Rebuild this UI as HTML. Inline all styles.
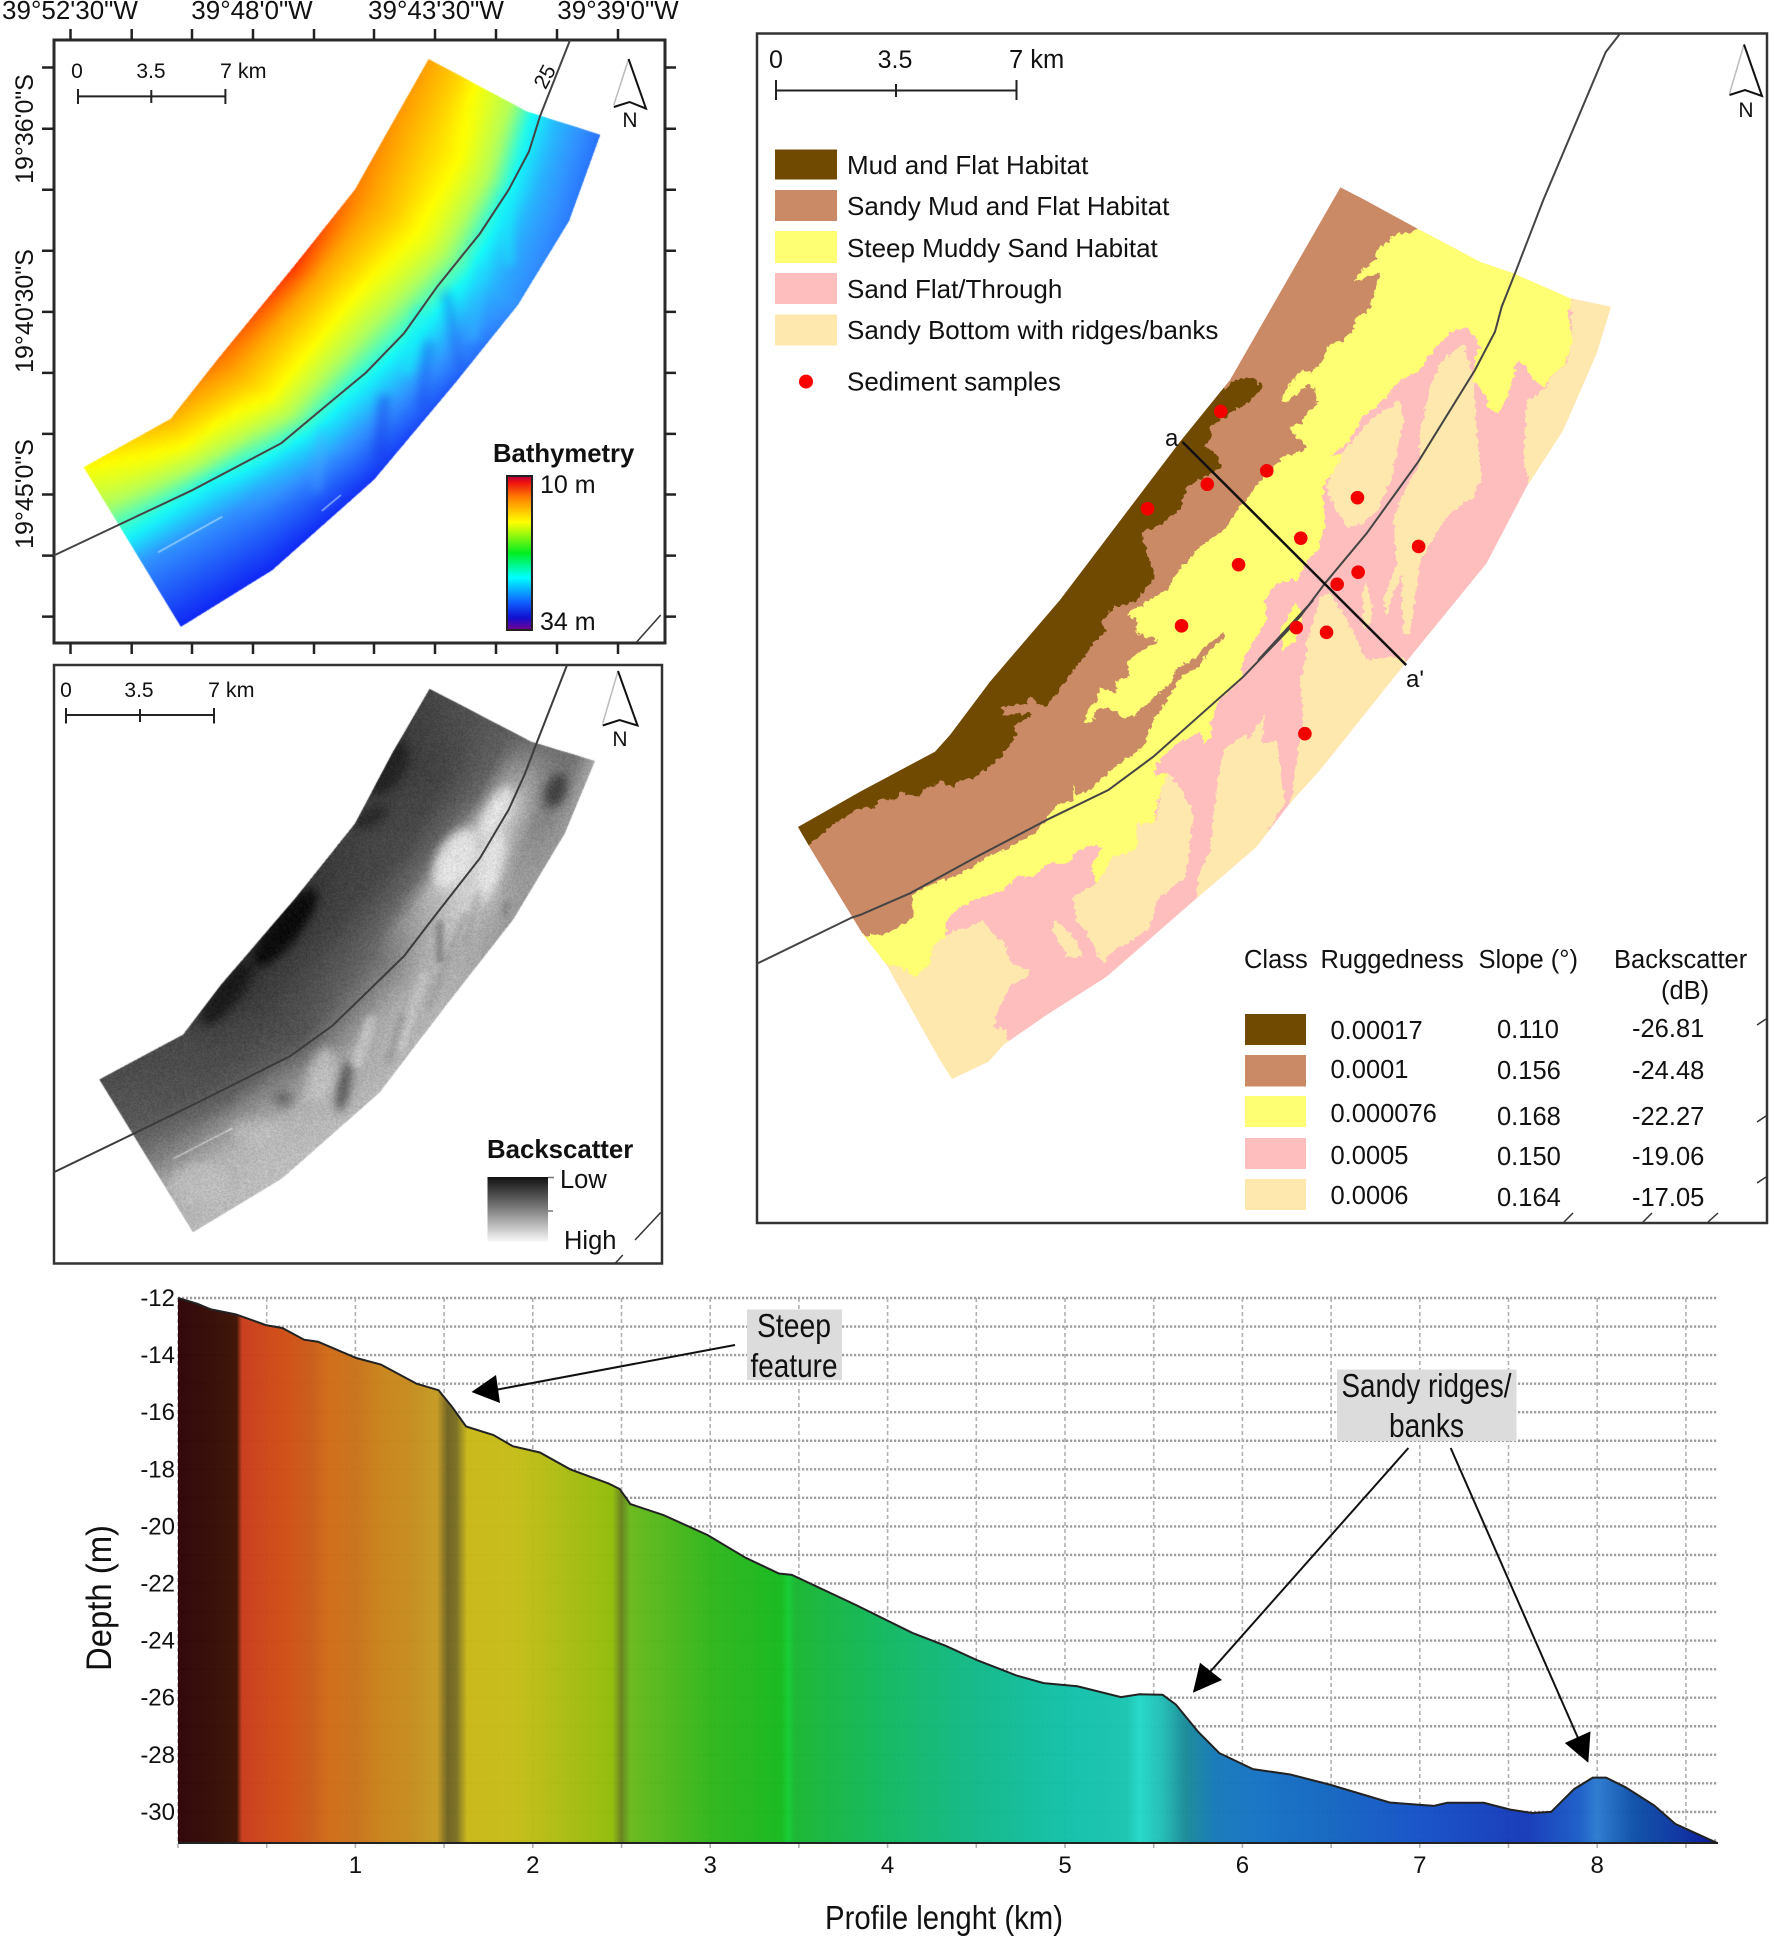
<!DOCTYPE html>
<html lang="en">
<head>
<meta charset="utf-8">
<title>Bathymetry, backscatter and habitat maps with depth profile</title>
<style>
html,body{margin:0;padding:0;background:#fff}
#stage{position:relative;width:1772px;height:1943px;overflow:hidden;background:#fff;font-family:"Liberation Sans",sans-serif}
canvas{position:absolute;display:block}
svg{position:absolute;left:0;top:0}
text{font-family:"Liberation Sans",sans-serif;fill:#111}
</style>
</head>
<body>
<div id="stage">
<canvas id="bathyCanvas" style="left:54px;top:40px" width="612" height="604"></canvas>
<canvas id="backCanvas" style="left:54px;top:665px" width="610" height="600"></canvas>
<svg id="main" width="1772" height="1943" viewBox="0 0 1772 1943">
<defs>
<filter id="rough" x="-5%" y="-5%" width="110%" height="110%" color-interpolation-filters="sRGB">
<feTurbulence type="fractalNoise" baseFrequency="0.2" numOctaves="2" seed="7" result="n"/>
<feDisplacementMap in="SourceGraphic" in2="n" scale="7" xChannelSelector="R" yChannelSelector="G"/>
</filter>
<clipPath id="habitatClip"><polygon id="habitatClipPoly"/></clipPath>
<linearGradient id="bathyRamp" x1="0" y1="0" x2="0" y2="1">
<stop offset="0" stop-color="#b00040"/><stop offset=".04" stop-color="#ee1010"/><stop offset=".14" stop-color="#ff8000"/><stop offset=".3" stop-color="#ffff00"/><stop offset=".5" stop-color="#00ee20"/><stop offset=".66" stop-color="#00ffff"/><stop offset=".82" stop-color="#1060ff"/><stop offset=".92" stop-color="#1010d0"/><stop offset="1" stop-color="#7a0090"/>
</linearGradient>
<linearGradient id="backRamp" x1="0" y1="0" x2="0" y2="1">
<stop offset="0" stop-color="#111"/><stop offset=".5" stop-color="#808080"/><stop offset="1" stop-color="#fafafa"/>
</linearGradient>
<linearGradient id="profileFill" gradientUnits="userSpaceOnUse" x1="178" y1="0" x2="1718" y2="0"></linearGradient>
</defs>

<!-- PANEL A -->
<g>
<rect x="54" y="40" width="611" height="603" fill="none" stroke="#2a2a2a" stroke-width="3"/>
<path id="ticksA" fill="none" stroke="#222" stroke-width="2.5"/>
<polyline id="contourA" fill="none" stroke="#444" stroke-width="2"/>
<line x1="660.7" y1="615" x2="636" y2="642.7" stroke="#333" stroke-width="1.5"/>
<text x="70" y="19" font-size="26" text-anchor="middle">39°52'30"W</text>
<text x="252" y="19" font-size="26" text-anchor="middle">39°48'0"W</text>
<text x="436" y="19" font-size="26" text-anchor="middle">39°43'30"W</text>
<text x="618" y="19" font-size="26" text-anchor="middle">39°39'0"W</text>
<text transform="translate(33,129) rotate(-90)" font-size="25" text-anchor="middle">19°36'0"S</text>
<text transform="translate(33,311) rotate(-90)" font-size="25" text-anchor="middle">19°40'30"S</text>
<text transform="translate(33,494) rotate(-90)" font-size="25" text-anchor="middle">19°45'0"S</text>
<text transform="translate(551,80) rotate(-62)" font-size="21" text-anchor="middle">25</text>
<g stroke="#222" stroke-width="2">
<path d="M78 96.4H225.4M78 89V104M151.3 90V103M225.4 89V104" fill="none"/>
</g>
<text x="77" y="78" font-size="21" text-anchor="middle">0</text>
<text x="151" y="78" font-size="21" text-anchor="middle">3.5</text>
<text x="220" y="78" font-size="21.5">7 km</text>
<g fill="none">
<line x1="628.6" y1="59" x2="613.8" y2="105" stroke="#bbb" stroke-width="1.5"/>
<polyline points="628.6,59 646,108.6 629.5,102 613.8,107" stroke="#111" stroke-width="2"/>
</g>
<text x="630" y="127" font-size="21" text-anchor="middle">N</text>
<text x="493" y="462" font-size="25.7" font-weight="bold">Bathymetry</text>
<rect x="507" y="476" width="25" height="154" fill="url(#bathyRamp)" stroke="#222" stroke-width="2"/>
<text x="540" y="493" font-size="25">10 m</text>
<text x="540" y="630" font-size="25">34 m</text>
</g>

<!-- PANEL B -->
<g>
<rect x="54" y="665" width="608" height="598.5" fill="none" stroke="#333" stroke-width="2.5"/>
<polyline id="contourB" fill="none" stroke="#3c3c3c" stroke-width="2"/>
<path d="M660.7 1212.5L635 1240M622.8 1255L615 1263.5" fill="none" stroke="#333" stroke-width="1.5"/>
<path d="M66 715H214M66 708V723.5M140 709V722M214 708V723.5" fill="none" stroke="#222" stroke-width="2"/>
<text x="66" y="697" font-size="21" text-anchor="middle">0</text>
<text x="139" y="697" font-size="21" text-anchor="middle">3.5</text>
<text x="208" y="697" font-size="21.5">7 km</text>
<g fill="none">
<line x1="618" y1="671" x2="602.7" y2="723.5" stroke="#bbb" stroke-width="1.5"/>
<polyline points="618,671 637.5,725.5 619.6,720 602.7,725.5" stroke="#111" stroke-width="2"/>
</g>
<text x="620" y="746" font-size="21" text-anchor="middle">N</text>
<text x="487" y="1158" font-size="25.8" font-weight="bold">Backscatter</text>
<rect x="487.5" y="1177" width="60.5" height="65" fill="url(#backRamp)"/>
<path d="M548 1177.5h6M548 1211h5" stroke="#777" stroke-width="1.5"/>
<text x="560" y="1188" font-size="25.5">Low</text>
<text x="564" y="1249" font-size="25.5">High</text>
</g>

<!-- PANEL C -->
<g>
<rect x="757" y="33.5" width="1010" height="1189.5" fill="#fff" stroke="#333" stroke-width="2.5"/>
<g clip-path="url(#habitatClip)">
<polygon id="hPink" fill="#ffbebe"/>
<g filter="url(#rough)">
<polygon id="hS1" fill="#ffe8ae"/>
<polygon id="hS2" fill="#ffe8ae"/>
<polygon id="hS3" fill="#ffe8ae"/>
<polygon id="hS4" fill="#ffe8ae"/>
<polygon id="hS5" fill="#ffe8ae"/>
<polygon id="hS6" fill="#ffe8ae"/>
<polygon id="hS6b" fill="#ffe8ae"/>
<polygon id="hS7" fill="#ffe8ae"/>
<polygon id="hS8" fill="#ffe8ae"/>
<polygon id="hYellow" fill="#ffff73"/>
<polygon id="hYellow2" fill="#ffff73"/>
<polygon id="hMud" fill="#cb8a66"/>
<polygon id="hDark" fill="#6f4a00"/>
</g>
</g>
<polyline id="contourC" fill="none" stroke="#444" stroke-width="2"/>
<line id="transect" stroke="#111" stroke-width="2.5"/>
<g id="samples"></g>
<text x="1165" y="446" font-size="24">a</text>
<text x="1406" y="687" font-size="24">a'</text>
<path d="M776 90.5H1016.5M776 80V100M896 84V97M1016.5 80V100" fill="none" stroke="#222" stroke-width="2"/>
<text x="776" y="68" font-size="25" text-anchor="middle">0</text>
<text x="895" y="68" font-size="25" text-anchor="middle">3.5</text>
<text x="1009" y="68" font-size="25.5">7 km</text>
<g fill="none">
<line x1="1744" y1="44.5" x2="1729.5" y2="93.7" stroke="#bbb" stroke-width="1.5"/>
<polyline points="1744,44.5 1762,96 1745,90 1729.5,95" stroke="#111" stroke-width="2"/>
</g>
<text x="1746" y="117" font-size="21" text-anchor="middle">N</text>

<g font-size="26">
<rect x="775" y="149.5" width="62" height="30" fill="#6f4a00"/>
<rect x="775" y="190" width="62" height="31" fill="#cb8a66"/>
<rect x="775" y="231" width="62" height="32" fill="#ffff73"/>
<rect x="775" y="273" width="62" height="31" fill="#ffbebe"/>
<rect x="775" y="314.5" width="62" height="31" fill="#ffe8ae"/>
<text x="847" y="174">Mud and Flat Habitat</text>
<text x="847" y="215">Sandy Mud and Flat Habitat</text>
<text x="847" y="257">Steep Muddy Sand Habitat</text>
<text x="847" y="298">Sand Flat/Through</text>
<text x="847" y="339">Sandy Bottom with ridges/banks</text>
<circle cx="806" cy="381.6" r="7" fill="#f00"/>
<text x="847" y="390.5">Sediment samples</text>
</g>

<g font-size="25.5">
<text x="1244" y="968">Class</text>
<text x="1320.5" y="968">Ruggedness</text>
<text x="1478.5" y="968">Slope (°)</text>
<text x="1614" y="968">Backscatter</text>
<text x="1661" y="999">(dB)</text>
<rect x="1245" y="1014" width="61" height="31" fill="#6f4a00"/>
<rect x="1245" y="1055" width="61" height="31.5" fill="#cb8a66"/>
<rect x="1245" y="1096" width="61" height="31" fill="#ffff73"/>
<rect x="1245" y="1138" width="61" height="31" fill="#ffbebe"/>
<rect x="1245" y="1179" width="61" height="31" fill="#ffe8ae"/>
<text x="1330.5" y="1039">0.00017</text>
<text x="1330.5" y="1078">0.0001</text>
<text x="1330.5" y="1122">0.000076</text>
<text x="1330.5" y="1164">0.0005</text>
<text x="1330.5" y="1204">0.0006</text>
<text x="1497" y="1038">0.110</text>
<text x="1497" y="1079">0.156</text>
<text x="1497" y="1125">0.168</text>
<text x="1497" y="1165">0.150</text>
<text x="1497" y="1206">0.164</text>
<text x="1632" y="1037">-26.81</text>
<text x="1632" y="1079">-24.48</text>
<text x="1632" y="1125">-22.27</text>
<text x="1632" y="1165">-19.06</text>
<text x="1632" y="1206">-17.05</text>
</g>
<path d="M1757 1025L1766 1019M1757 1122L1766 1116M1757 1183L1766 1177M1564 1222L1573 1213M1643 1222L1652 1213M1708 1222L1718 1213" fill="none" stroke="#333" stroke-width="1.5"/>
</g>

<!-- PROFILE -->
<g id="profile">
<g id="profileGrid"></g>
<path id="profileArea" fill="url(#profileFill)" fill-opacity=".97"/>
<path id="profileLine" fill="none" stroke="#222" stroke-width="2"/>
<line id="profileBase" stroke="#222" stroke-width="2"/>
<g id="profileTicks" font-size="24"></g>
<text transform="translate(111,1598) rotate(-90)" font-size="35" text-anchor="middle" textLength="146" lengthAdjust="spacingAndGlyphs">Depth (m)</text>
<text x="825" y="1929" font-size="33" textLength="238" lengthAdjust="spacingAndGlyphs">Profile lenght (km)</text>
<rect x="747" y="1309.5" width="95" height="70.5" fill="#dcdcdc"/>
<text x="794" y="1337" font-size="33" text-anchor="middle" textLength="74" lengthAdjust="spacingAndGlyphs">Steep</text>
<text x="794" y="1377" font-size="33" text-anchor="middle" textLength="87" lengthAdjust="spacingAndGlyphs">feature</text>
<line x1="735" y1="1345" x2="495" y2="1390" stroke="#111" stroke-width="2"/>
<polygon points="471.5,1392 496,1375 500,1403" fill="#000"/>
<rect x="1337" y="1369.5" width="179.5" height="71.5" fill="#dcdcdc"/>
<text x="1426.5" y="1397" font-size="33" text-anchor="middle" textLength="170" lengthAdjust="spacingAndGlyphs">Sandy ridges/</text>
<text x="1426.5" y="1437" font-size="33" text-anchor="middle" textLength="75" lengthAdjust="spacingAndGlyphs">banks</text>
<line x1="1408.4" y1="1448" x2="1210" y2="1672" stroke="#111" stroke-width="2"/>
<polygon points="1192.9,1692.8 1200,1662.7 1222,1680" fill="#000"/>
<line x1="1450.7" y1="1448" x2="1578" y2="1738" stroke="#111" stroke-width="2"/>
<polygon points="1588.3,1762.7 1564.8,1743 1590.5,1731.4" fill="#000"/>
</g>
</svg>
</div>

<script>
/* ---------- depth profile data ---------- */
const profileKm = [0,0.108,0.186,0.325,0.495,0.588,0.711,0.789,1.005,1.144,1.345,1.469,1.547,1.624,1.778,1.887,2.04,2.21,2.428,2.49,2.55,2.736,2.985,3.2,3.387,3.46,3.82,4.14,4.326,4.51,4.73,4.88,5.07,5.315,5.42,5.55,5.625,5.75,5.87,6.06,6.27,6.49,6.83,7.08,7.155,7.36,7.51,7.635,7.74,7.87,7.975,8.05,8.16,8.32,8.44,8.68];
const profileDepth = [-12,-12.2,-12.4,-12.57,-12.95,-13.05,-13.46,-13.53,-14.1,-14.33,-15,-15.23,-15.83,-16.5,-16.8,-17.19,-17.41,-18,-18.5,-18.69,-19.22,-19.6,-20.3,-21.1,-21.65,-21.7,-22.75,-23.73,-24.18,-24.7,-25.23,-25.49,-25.6,-25.98,-25.88,-25.9,-26.24,-27.19,-27.94,-28.5,-28.69,-29.04,-29.67,-29.79,-29.68,-29.68,-29.92,-30.04,-30,-29.2,-28.8,-28.8,-29.14,-29.77,-30.42,-31.1];
const depthTickLabels = [-12,-14,-16,-18,-20,-22,-24,-26,-28,-30];
const kmTickLabels = [1,2,3,4,5,6,7,8];
const depthGridLines = [-12,-13,-14,-15,-16,-17,-18,-19,-20,-21,-22,-23,-24,-25,-26,-27,-28,-29,-30,-31];
const kmGridLines = [0,0.5,1,1.5,2,2.5,3,3.5,4,4.5,5,5.5,6,6.5,7,7.5,8,8.5];
const shadeKm = [0,0.33,0.36,0.6,0.75,0.85,1,1.15,1.3,1.46,1.52,1.57,1.63,1.9,2.05,2.2,2.45,2.5,2.55,2.6,3,3.4,3.44,3.48,4,4.5,5,5.35,5.42,5.55,5.68,5.85,6.1,6.5,7,7.6,7.9,8,8.2,8.5,8.68];
const shadeColor = ["#2c0006","#3a1000","#c83a1a","#d04c12","#c95a16","#d06a14","#c87018","#c98218","#c58a1c","#c49a20","#6e6220","#7a6e20","#c9b716","#c4bc14","#b8bc12","#a8bb10","#8fbc08","#66801c","#6ab81a","#62b81a","#2fb51a","#14b81c","#10cc30","#18b530","#10b860","#10b888","#10c0a8","#18c4b0","#22d8c8","#20bcb4","#188a98","#1478b8","#1472c4","#1265c0","#1450c8","#1438b8","#1a5cc8","#2a7ad0","#0c50a8","#0a2ea0","#05109a"];

const NS = "http://www.w3.org/2000/svg";
const xKm = km => 178 + km * 177.4;
const yDepth = d => 1298 + (-12 - d) * 28.55;

const gradEl = document.getElementById('profileFill');
shadeKm.forEach((k, i) => {
  const s = document.createElementNS(NS, 'stop');
  s.setAttribute('offset', (xKm(k) - 178) / 1540);
  s.setAttribute('stop-color', shadeColor[i]);
  gradEl.appendChild(s);
});
const gridG = document.getElementById('profileGrid');
depthGridLines.forEach(d => {
  const l = document.createElementNS(NS, 'line');
  
  
  l.setAttribute('x1', xKm(0)); l.setAttribute('x2', 1718);
  l.setAttribute('y1', yDepth(d)); l.setAttribute('y2', yDepth(d));
  l.setAttribute('stroke', '#9c9c9c'); l.setAttribute('stroke-width', '2.4'); l.setAttribute('stroke-dasharray', '2.2 1.8');
  gridG.appendChild(l);
});
kmGridLines.forEach(k => {
  const l = document.createElementNS(NS, 'line');
  
  
  l.setAttribute('x1', xKm(k)); l.setAttribute('x2', xKm(k));
  l.setAttribute('y1', yDepth(-12)); l.setAttribute('y2', 1850);
  l.setAttribute('stroke', '#b0b0b0'); l.setAttribute('stroke-width', '1.6'); l.setAttribute('stroke-dasharray', '4 3');
  gridG.appendChild(l);
});
const linePts = profileKm.map((k, i) => xKm(k).toFixed(1) + ' ' + yDepth(profileDepth[i]).toFixed(1));
const baseY = 1843;
document.getElementById('profileLine').setAttribute('d', 'M' + linePts.join('L'));
document.getElementById('profileArea').setAttribute('d', 'M' + xKm(profileKm[0]) + ' ' + baseY + 'L' + linePts.join('L') + 'L' + xKm(profileKm[profileKm.length - 1]) + ' ' + baseY + 'Z');
const baseLine = document.getElementById('profileBase');
baseLine.setAttribute('x1', xKm(0)); baseLine.setAttribute('x2', 1718);
baseLine.setAttribute('y1', baseY); baseLine.setAttribute('y2', baseY);
const tickG = document.getElementById('profileTicks');
depthTickLabels.forEach(d => {
  const t = document.createElementNS(NS, 'text');
  
  
  t.setAttribute('x', 175); t.setAttribute('y', yDepth(d) + 8);
  t.setAttribute('text-anchor', 'end');
  t.textContent = d;
  tickG.appendChild(t);
});
kmTickLabels.forEach(k => {
  const t = document.createElementNS(NS, 'text');
  
  
  t.setAttribute('x', xKm(k)); t.setAttribute('y', 1873);
  t.setAttribute('text-anchor', 'middle');
  t.textContent = k;
  tickG.appendChild(t);
});

/* ---------- habitat samples (km from the frame's lower-left corner) ---------- */
const sampleEastKm = [13.51,14.85,13.12,11.38,17.49,15.84,14.03,19.27,17.51,16.90,12.37,15.71,16.59,15.96];
const sampleNorthKm = [23.62,21.89,21.50,20.79,21.11,19.93,19.16,19.69,18.94,18.59,17.38,17.33,17.19,14.24];
const mapX = km => 756.5 + km * 34.36;
const mapY = km => 1223 - km * 34.36;
const sampleG = document.getElementById('samples');
sampleEastKm.forEach((e, i) => {
  const c = document.createElementNS(NS, 'circle');
  
  
  c.setAttribute('cx', mapX(e)); c.setAttribute('cy', mapY(sampleNorthKm[i])); c.setAttribute('r', 6.8);
  c.setAttribute('fill', '#f30000');
  sampleG.appendChild(c);
});

/* ---------- map geometry helpers ---------- */
const Z1 = p => [p[0] / 2.24, p[1] / 2.376];
const Z4 = p => [p[0] / 2.24, 650 + p[1] / 2.45];
const Z2 = p => [740 + p[0] / 1.519, 20 + p[1] / 2.24];
const Z3 = p => [740 + p[0] / 1.519, 680 + p[1] / 2.8];
const Z5 = p => [1180 + p[0] / 3, 200 + p[1] / 3];
const Z6 = p => [860 + p[0] / 3, 600 + p[1] / 3];
const setPts = (id, pts) => document.getElementById(id).setAttribute('points', pts.map(p => p[0].toFixed(1) + ',' + p[1].toFixed(1)).join(' '));

setPts('contourA', [[1277,95],[1210,275],[1185,360],[1140,450],[1075,555],[980,680],[905,792],[820,885],[735,960],[630,1053],[430,1165],[270,1245],[120,1320]].map(Z1));
setPts('contourB', [[1270,37],[1205,220],[1175,305],[1140,390],[1075,510],[975,650],[905,750],[830,830],[745,920],[650,995],[440,1110],[290,1190],[120,1280]].map(Z4));
setPts('contourC', [[1337,30],[1315,72]].map(Z2).concat([[1090,0],[1005,220],[965,320],[945,395],[885,510],[715,785],[560,1000],[435,1150],[360,1250],[235,1380]].map(Z5)).concat([[1360,0],[1285,90],[1150,230],[880,470],[745,570],[570,655],[350,770],[150,880],[0,945]].map(Z6)).concat([[170,665],[25,795]].map(Z3)));
const ta = Z2([672,945]), tb = Z2([1012,1445]);
const trEl = document.getElementById('transect');
trEl.setAttribute('x1', ta[0]); trEl.setAttribute('y1', ta[1]); trEl.setAttribute('x2', tb[0]); trEl.setAttribute('y2', tb[1]);

const tickXs = [70.5,131.7,192,253,314,374,435,496,557,618];
const tickYs = [67.5,128.8,189.8,250.8,311.9,372.9,433.9,494.5,555.6,616.6];
let dT = '';
tickXs.forEach(x => { dT += 'M' + x + ' 29V40M' + x + ' 643V654'; });
tickYs.forEach(y => { dT += 'M665 ' + y + 'H676M42 ' + y + 'H54'; });
document.getElementById('ticksA').setAttribute('d', dT);

/* ---------- habitat polygons ---------- */
const swath = [[1340.4,187.4]].concat(
  [[555,0],[710,85],[900,185],[1000,220],[1170,295],[1293,320],[1250,460],[1150,690],[1040,860],[920,1090],[700,1360]].map(Z5),
  [[1380,510],[1290,610],[1190,740],[1010,895],[740,1130],[560,1245],[430,1335],[385,1385]].map(Z6),
  [[952,1079]],
  [[240,1380],[80,1095],[10,1005]].map(Z6),
  [[809,846],[798,827]],
  [[0,575],[225,455],[270,405],[390,245],[600,0]].map(Z6),
  [[0,725],[150,540]].map(Z5));
setPts('habitatClipPoly', swath);
setPts('hPink', swath);
setPts('hS1', [[1170,295],[1310,300],[1260,460],[1160,690],[1050,860],[1030,780],[1040,600],[1090,570],[1130,510],[1165,490],[1175,400]].map(Z5));
setPts('hS2', [[660,600],[670,660],[650,760],[630,850],[600,920],[550,970],[500,985],[470,930],[445,890],[440,860],[470,780],[510,730],[580,650]].map(Z5));
setPts('hS3', [[850,430],[880,530],[890,700],[905,830],[880,890],[800,950],[750,1030],[720,1090],[690,1300],[670,1300],[665,1120],[640,1180],[620,1250],[610,1200],[650,1090],[640,950],[720,780],[720,700],[750,560],[780,490]].map(Z5));
setPts('hS4', [[420,1190],[450,1180],[500,1260],[530,1320],[560,1380],[640,1370],[710,1385]].map(Z5).concat([[1400,520],[1290,615],[1310,480],[1330,350],[1320,240]].map(Z6),[[375,1380],[380,1330],[400,1260]].map(Z5)));
setPts('hS5', [[1215,340],[1205,430],[1250,420],[1275,610],[1190,750],[1010,905],[1015,830],[1050,750],[1065,600],[1090,450],[1160,400],[1165,420]].map(Z6));
setPts('hS6', [[920,515],[965,570],[1000,640],[985,780],[975,830],[940,860],[890,900],[870,980],[820,1020],[750,1060],[730,1090],[680,1000],[650,960],[640,890],[710,850],[760,770],[830,750],[830,670],[885,670],[905,570]].map(Z6));
setPts('hS6b', [[590,960],[640,1010],[670,1070],[620,1070],[575,985]].map(Z6));
setPts('hS7', [[370,965],[400,1000],[440,1040],[450,1090],[510,1110],[500,1130],[450,1160],[420,1220],[400,1280],[440,1290],[445,1345],[400,1400],[300,1490],[200,1420],[50,1095],[120,1100],[165,1130],[210,1090],[215,1040],[255,1010],[290,990]].map(Z6));
setPts('hS8', [[560,1140],[580,1250],[555,1290],[545,1180]].map(Z5));

setPts('hYellow', [[700,60],[900,165],[1180,280],[1175,300],[1165,340],[1175,420],[1160,490],[1130,510],[1090,560],[1060,540],[1040,500],[1010,480],[1000,530],[985,590],[950,645],[925,620],[920,590],[880,540],[885,470],[900,440],[860,380],[810,400],[760,450],[720,510],[660,540],[610,600],[550,650],[510,720],[450,770],[490,760],[430,860],[435,970],[415,1050],[385,1080],[350,1140],[330,1140],[290,1150],[255,1200]].map(Z5).concat(
  [[1220,60],[1160,160],[1140,210],[1150,230],[1080,300],[1050,370],[1055,410],[1030,430],[1020,395],[950,430],[890,490],[885,530],[920,515],[905,570],[885,640],[885,670],[830,670],[830,750],[760,770],[710,850],[690,800],[730,740],[690,735],[640,760],[630,790],[560,790],[525,830],[470,830],[430,870],[340,900],[290,930],[260,960],[255,1010],[215,1040],[210,1090],[165,1130],[120,1100],[65,1095],[-20,1000]].map(Z6),
  [[1000,620],[1230,350]]));
setPts('hYellow2', [[300,1290],[345,1210],[370,1240],[350,1320],[310,1350]].map(Z5));

const mudInner = [[710,85],[700,100],[660,100],[620,125],[590,150],[585,180],[540,215],[520,245],[600,220],[580,290],[570,325],[525,360],[520,390],[490,420],[440,440],[430,480],[390,520],[370,510],[330,550],[300,600],[320,610],[340,590],[390,550],[405,570],[415,605],[380,640],[365,670],[325,680],[340,700],[385,745],[310,770],[285,795],[240,840],[200,900],[180,920],[130,990],[60,1040],[0,1105]].map(Z5);
const mudLower = [[924,-33],[870,0],[800,40],[830,60],[830,100],[880,115],[900,125],[850,150],[820,170],[800,190],[810,230],[770,240],[770,280],[720,265],[710,300],[680,330],[675,365],[700,370],[705,330],[740,320],[790,355],[825,345],[860,310],[900,280],[930,250],[950,205],[1000,180],[1040,135],[1095,95],[1090,115],[1045,155],[1020,200],[970,225],[945,260],[925,300],[895,340],[870,380],[850,440],[790,480],[735,530],[680,575],[650,585],[640,550],[640,600],[600,610],[570,640],[525,700],[445,745],[380,770],[340,800],[290,825],[220,850],[155,885],[160,950],[110,985],[60,1005],[10,1005],[-20,1010]].map(Z6);
setPts('hMud', mudInner.concat(mudLower, [[780,850],[1000,620],[1230,350],[1330,170],[1420,223]]));

const darkPts = [[785,855],[808,846],[825.6,830],[852,812]].concat(
  [[0,625],[45,625],[60,595],[110,600],[120,575],[180,595],[190,570],[240,545],[275,560],[310,540],[350,530],[410,480],[440,450],[470,400],[460,380],[520,340],[430,345],[425,325],[500,310],[510,290],[555,325],[590,280],[610,250],[650,200],[700,130],[740,90],[720,70],[760,20],[790,15],[830,0]].map(Z6),
  [[1154.7,578],[1141.6,533],[1161,524]],
  [[0,930],[20,860],[75,830],[125,800],[100,750],[70,740],[95,715],[90,690],[105,670],[165,630],[205,610],[250,560],[230,545],[220,530],[185,535],[155,550],[135,570],[120,540],[-30,700]].map(Z5),
  [[560,-20],[370,230],[210,440],[0,550]].map(Z6),
  [[780,815]]);
setPts('hDark', darkPts);

/* ---------- raster swaths ---------- */
function lerp(a, b, t) { return a + (b - a) * t; }
function tableAt(tbl, u) {
  for (let i = 1; i < tbl.length; i++) {
    if (u <= tbl[i][0]) {
      const f = (u - tbl[i - 1][0]) / (tbl[i][0] - tbl[i - 1][0] || 1);
      return lerp(tbl[i - 1][1], tbl[i][1], f);
    }
  }
  return tbl[tbl.length - 1][1];
}
function drawSwath(ctx, pairs, rows, colorOf) {
  const sub = 20, n = pairs.length - 1;
  for (let s = 0; s < n; s++) {
    for (let k = 0; k < sub; k++) {
      const f0 = k / sub, f1 = Math.min(k + 1.6, sub + 1.6) / sub, fm = (k + 0.5) / sub;
      const P = (f, side) => {
        const a = pairs[s], b = pairs[s + 1];
        return [lerp(a[side][0], b[side][0], f), lerp(a[side][1], b[side][1], f)];
      };
      const L0 = P(f0, 0), R0 = P(f0, 1), L1 = P(f1, 0), R1 = P(f1, 1), Lm = P(fm, 0), Rm = P(fm, 1);
      const g = ctx.createLinearGradient(Lm[0], Lm[1], Rm[0], Rm[1]);
      for (let i = 0; i <= 24; i++) {
        const u = i / 24;
        const v = lerp(tableAt(rows[s], u), tableAt(rows[s + 1], u), fm);
        g.addColorStop(u, colorOf(v));
      }
      ctx.fillStyle = g;
      ctx.beginPath();
      ctx.moveTo(L0[0], L0[1]); ctx.lineTo(L1[0], L1[1]); ctx.lineTo(R1[0], R1[1]); ctx.lineTo(R0[0], R0[1]);
      ctx.closePath(); ctx.fill();
    }
  }
}
function clipPoly(ctx, pts) {
  ctx.beginPath();
  pts.forEach((p, i) => i ? ctx.lineTo(p[0], p[1]) : ctx.moveTo(p[0], p[1]));
  ctx.closePath(); ctx.clip();
}

/* bathymetry */
(function () {
  const ctx = document.getElementById('bathyCanvas').getContext('2d');
  ctx.translate(-54, -40);
  const outline = [[960,140],[1180,265],[1345,320],[1275,525],[1160,725],[1020,910],[838,1140],[610,1355],[405,1490],[187,1110],[382,995],[490,850],[660,630],[795,450],[880,290]].map(Z1);
  clipPoly(ctx, outline);
  const pairs = [[[187,1110],[405,1490]],[[382,995],[610,1355]],[[490,850],[838,1140]],[[660,630],[1020,910]],[[795,450],[1160,725]],[[880,290],[1275,525]],[[960,140],[1345,320]]]
    .map(p => [Z1(p[0]), Z1(p[1])]);
  const rows = [
    [[0,2],[.18,2.7],[.35,3.6],[.44,4],[.6,5],[1,6]],
    [[0,1.2],[.17,2],[.3,3],[.42,4],[.62,5],[1,6]],
    [[0,.6],[.33,2],[.47,3],[.6,4],[.78,5],[1,5.9]],
    [[0,0],[.12,1],[.33,2],[.5,3],[.68,4],[.88,5],[1,5.5]],
    [[0,.7],[.25,1.5],[.45,2.3],[.62,3.4],[.72,4],[.85,4.7],[1,5]],
    [[0,.9],[.2,1.5],[.38,2],[.55,3],[.67,4],[.8,4.7],[1,5.2]],
    [[0,1],[.2,1.6],[.28,2],[.5,3],[.62,4],[.75,4.6],[1,5.3]]
  ];
  const cmap = [[255,50,0],[255,160,0],[255,255,0],[175,255,95],[20,250,250],[50,145,255],[16,40,245]];
  const colorOf = v => {
    const i = Math.max(0, Math.min(5, Math.floor(v))), f = Math.max(0, Math.min(1, v - i));
    const a = cmap[i], b = cmap[i + 1];
    return 'rgb(' + Math.round(lerp(a[0], b[0], f)) + ',' + Math.round(lerp(a[1], b[1], f)) + ',' + Math.round(lerp(a[2], b[2], f)) + ')';
  };
  drawSwath(ctx, pairs, rows, colorOf);
  ctx.filter = 'blur(5px)';
  ctx.lineCap = 'round';
  const streak = (a, b, col, w) => {
    const p = Z1(a), q = Z1(b);
    ctx.strokeStyle = col; ctx.lineWidth = w;
    ctx.beginPath(); ctx.moveTo(p[0], p[1]); ctx.lineTo(q[0], q[1]); ctx.stroke();
  };
  streak([1135,470],[1140,620],'rgba(20,240,250,.55)',9);
  streak([1075,640],[1060,800],'rgba(40,200,255,.45)',9);
  streak([940,740],[915,880],'rgba(20,240,250,.55)',10);
  streak([720,1030],[710,1160],'rgba(70,170,255,.5)',9);
  streak([1000,700],[1030,870],'rgba(30,90,240,.45)',9);
  streak([860,950],[850,1080],'rgba(20,50,230,.45)',11);
  streak([960,820],[945,960],'rgba(20,60,235,.4)',9);
  ctx.filter = 'none';
  streak([355,1312],[497,1228],'rgba(190,225,255,.8)',1.3);
  streak([722,1213],[763,1177],'rgba(190,225,255,.8)',1.3);
})();

/* backscatter */
(function () {
  const cv = document.getElementById('backCanvas');
  const ctx = cv.getContext('2d');
  ctx.save();
  ctx.translate(-54, -665);
  const outline = [[962,95],[1190,225],[1333,272],[1265,450],[1150,660],[1000,870],[850,1085],[632,1295],[432,1427],[222,1052],[410,942],[495,820],[660,610],[795,425],[880,250]].map(Z4);
  clipPoly(ctx, outline);
  const pairs = [[[222,1052],[432,1427]],[[410,942],[632,1295]],[[495,820],[850,1085]],[[660,610],[1000,870]],[[795,425],[1150,660]],[[880,250],[1265,450]],[[962,95],[1333,272]]]
    .map(p => [Z4(p[0]), Z4(p[1])]);
  const rows = [
    [[0,.3],[.35,.36],[.55,.5],[.7,.68],[1,.72]],
    [[0,.28],[.3,.31],[.45,.38],[.55,.55],[.75,.72],[1,.75]],
    [[0,.17],[.25,.26],[.5,.33],[.62,.48],[.75,.65],[1,.72]],
    [[0,.2],[.25,.26],[.5,.4],[.65,.52],[.8,.68],[1,.7]],
    [[0,.26],[.3,.29],[.45,.42],[.55,.78],[.75,.82],[.9,.65],[1,.6]],
    [[0,.22],[.3,.27],[.5,.4],[.6,.72],[.7,.78],[.85,.5],[1,.6]],
    [[0,.27],[.3,.33],[.6,.38],[.75,.42],[.9,.45],[1,.65]]
  ];
  drawSwath(ctx, pairs, rows, v => { const g = Math.round(v * 255); return 'rgb(' + g + ',' + g + ',' + g + ')'; });
  const blob = (x, y, rx, ry, rot, col) => {
    const p = Z4([x, y]);
    ctx.fillStyle = col;
    ctx.beginPath(); ctx.ellipse(p[0], p[1], rx, ry, rot * Math.PI / 180, 0, 6.2832); ctx.fill();
  };
  ctx.filter = 'blur(5px)';
  blob(640,680,48,15,-52,'rgba(10,10,10,.95)');
  blob(510,840,40,12,-52,'rgba(20,20,20,.8)');
  blob(870,290,30,16,-60,'rgba(25,25,25,.7)');
  blob(830,410,20,9,-30,'rgba(25,25,25,.6)');
  blob(1245,345,10,18,20,'rgba(50,50,50,.8)');
  blob(770,1070,6,26,10,'rgba(60,60,60,.8)');
  blob(635,1100,10,10,0,'rgba(85,85,85,.6)');
  blob(1020,510,18,32,30,'rgba(232,232,232,.85)');
  blob(1110,400,10,30,30,'rgba(232,232,232,.85)');
  blob(1100,530,11,36,15,'rgba(230,230,230,.85)');
  blob(720,1040,14,28,15,'rgba(205,205,205,.65)');
  blob(570,1180,24,13,0,'rgba(195,195,195,.55)');
  blob(450,1310,28,22,0,'rgba(195,195,195,.55)');
  ctx.filter = 'blur(2.5px)';
  ctx.lineCap = 'round';
  const line = (a, b, col, w) => {
    const p = Z4(a), q = Z4(b);
    ctx.strokeStyle = col; ctx.lineWidth = w;
    ctx.beginPath(); ctx.moveTo(p[0], p[1]); ctx.lineTo(q[0], q[1]); ctx.stroke();
  };
  line([985,670],[985,760],'rgba(90,90,90,.6)',6);
  line([1135,620],[1130,650],'rgba(90,90,90,.5)',4);
  line([950,800],[900,970],'rgba(215,215,215,.45)',9);
  line([1040,650],[960,880],'rgba(120,120,120,.3)',5);
  line([830,910],[800,1010],'rgba(215,215,215,.5)',12);
  line([900,900],[870,1010],'rgba(120,120,120,.35)',6);
  line([1075,590],[1040,720],'rgba(130,130,130,.35)',5);
  ctx.filter = 'none';
  line([390,1245],[520,1172],'rgba(230,230,230,.7)',1.2);
  ctx.restore();
  const img = ctx.getImageData(0, 0, cv.width, cv.height), d = img.data;
  let s = 246813;
  for (let i = 0; i < d.length; i += 4) {
    if (d[i + 3] === 0) continue;
    s ^= s << 13; s ^= s >>> 17; s ^= s << 5;
    const n = ((s >>> 0) % 41) - 20;
    const amp = 0.4 + d[i] / 255 * 0.45;
    const val = Math.max(0, Math.min(255, d[i] + n * amp));
    d[i] = d[i + 1] = d[i + 2] = val;
  }
  ctx.putImageData(img, 0, 0);
})();
</script>
</body>
</html>
